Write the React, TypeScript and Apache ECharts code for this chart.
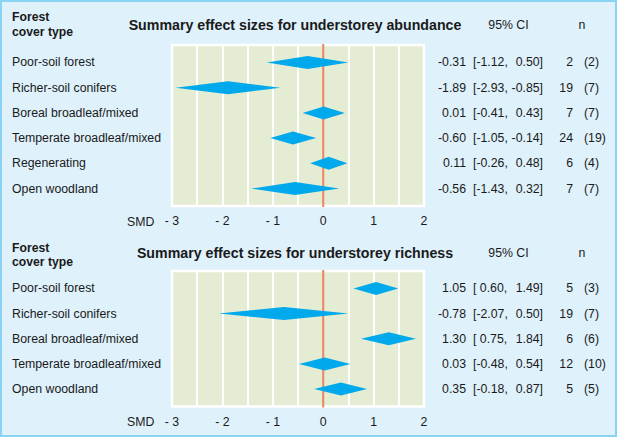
import React, { useEffect, useRef } from "react";
import * as echarts from "echarts";

// ---- Data ----
const abundanceCats = ["Poor-soil forest", "Richer-soil conifers", "Boreal broadleaf/mixed", "Temperate broadleaf/mixed", "Regenerating", "Open woodland"];
const abundanceEst = [-0.31, -1.89, 0.01, -0.6, 0.11, -0.56];
const abundanceLow = [-1.12, -2.93, -0.41, -1.05, -0.26, -1.43];
const abundanceHigh = [0.5, -0.85, 0.43, -0.14, 0.48, 0.32];
const abundanceN = [2, 19, 7, 24, 6, 7];
const abundanceK = [2, 7, 7, 19, 4, 7];

const richnessCats = ["Poor-soil forest", "Richer-soil conifers", "Boreal broadleaf/mixed", "Temperate broadleaf/mixed", "Open woodland"];
const richnessEst = [1.05, -0.78, 1.3, 0.03, 0.35];
const richnessLow = [0.6, -2.07, 0.75, -0.48, -0.18];
const richnessHigh = [1.49, 0.5, 1.84, 0.54, 0.87];
const richnessN = [5, 19, 6, 12, 5];
const richnessK = [3, 7, 6, 10, 5];

const xTicks = [-3, -2, -1, 0, 1, 2];
const titles = ["Summary effect sizes for understorey abundance", "Summary effect sizes for understorey richness"];

const FONT = '"Liberation Sans", Arial, Helvetica, sans-serif';
const TXT = "#1a1a1a";
const FS = 12.3;

function fmtLow(v: number) {
  return v < 0 ? "[-" + Math.abs(v).toFixed(2) + "," : "[ " + v.toFixed(2) + ",";
}
function fmtHigh(v: number) {
  return (v < 0 ? "-" + Math.abs(v).toFixed(2) : v.toFixed(2)) + "]";
}
function fmtEst(v: number) {
  return v < 0 ? "-" + Math.abs(v).toFixed(2) : v.toFixed(2);
}

function txt(x: number, y: number, text: string, opts: any = {}) {
  return {
    type: "text",
    x,
    y,
    silent: true,
    style: {
      text,
      fill: TXT,
      font: `${opts.bold ? "bold " : ""}${opts.size || FS}px ${FONT}`,
      align: opts.align || "left",
      verticalAlign: "middle",
    },
  };
}

export default function App() {
  const ref = useRef<HTMLDivElement>(null);
  useEffect(() => {
    document.body.style.margin = "0";
    const chart = echarts.init(ref.current!, undefined, { renderer: "svg" });

    const panels = [
      { cats: abundanceCats, est: abundanceEst, low: abundanceLow, high: abundanceHigh, n: abundanceN, k: abundanceK, top: 45, height: 161, f1: 17.3, f2: 32.3, ty: 25 },
      { cats: richnessCats, est: richnessEst, low: richnessLow, high: richnessHigh, n: richnessN, k: richnessK, top: 271, height: 135.5, f1: 247.5, f2: 262.3, ty: 253.3 },
    ];

    const grids: any[] = [];
    const xAxes: any[] = [];
    const yAxes: any[] = [];
    const series: any[] = [];
    const graphics: any[] = [];

    panels.forEach((p, gi) => {
      const cnt = p.cats.length;
      grids.push({
        left: 172,
        width: 252,
        top: p.top,
        height: p.height,
        show: true,
        backgroundColor: "#e4edd3",
        borderColor: "#ffffff",
        borderWidth: 2.5,
      });
      xAxes.push({
        type: "value",
        gridIndex: gi,
        min: -3,
        max: 2,
        interval: 0.5,
        axisLine: { show: false },
        axisTick: { show: false },
        splitLine: { show: true, lineStyle: { color: "#ffffff", width: 2 } },
        axisLabel: {
          margin: 9,
          color: TXT,
          fontSize: FS,
          fontFamily: FONT,
          formatter: (v: number) => (xTicks.indexOf(v) >= 0 ? (v < 0 ? "- " + Math.abs(v) : String(v)) : ""),
        },
      });
      yAxes.push({
        type: "value",
        gridIndex: gi,
        min: -0.69,
        max: cnt - 1 + 0.69,
        inverse: true,
        show: false,
        splitLine: { show: false },
      });
      // zero line
      series.push({
        type: "line",
        xAxisIndex: gi,
        yAxisIndex: gi,
        data: [[0, -1], [0, cnt]],
        symbol: "none",
        silent: true,
        z: 1,
        lineStyle: { color: "#e8845c", width: 2 },
      });
      const data = p.cats.map((_, i) => [p.est[i], i, p.low[i], p.high[i]]);
      series.push({
        type: "custom",
        xAxisIndex: gi,
        yAxisIndex: gi,
        z: 3,
        clip: false,
        encode: { x: [0, 2, 3], y: 1 },
        data,
        renderItem: (params: any, api: any) => {
          const i = api.value(1);
          const c = api.coord([api.value(0), i]);
          const xl = api.coord([api.value(2), i])[0];
          const xh = api.coord([api.value(3), i])[0];
          const yc = c[1];
          const h = 6.5;
          return {
            type: "group",
            children: [
              {
                type: "polygon",
                shape: { points: [[xl, yc], [c[0], yc - h], [xh, yc], [c[0], yc + h]] },
                style: { fill: "#00a9ec" },
              },
              txt(12, yc, p.cats[i]),
              txt(466, yc, fmtEst(p.est[i]), { align: "right" }),
              txt(473, yc, fmtLow(p.low[i])),
              txt(543, yc, fmtHigh(p.high[i]), { align: "right" }),
              txt(573, yc, String(p.n[i]), { align: "right" }),
              txt(584, yc, "(" + p.k[i] + ")"),
            ],
          };
        },
      });

      graphics.push(txt(12, p.f1, "Forest", { bold: true, size: 12.2 }));
      graphics.push(txt(12, p.f2, "cover type", { bold: true, size: 12.2 }));
      graphics.push(txt(295, p.ty, titles[gi], { bold: true, size: 14.2, align: "center" }));
      graphics.push(txt(508.5, p.ty, "95% CI", { align: "center" }));
      graphics.push(txt(582, p.ty, "n", { align: "center" }));
      graphics.push(txt(127, p.top + p.height + 15.5, "SMD"));
    });

    chart.setOption({
      animation: false,
      grid: grids,
      xAxis: xAxes,
      yAxis: yAxes,
      series,
      graphic: graphics,
    });
    return () => chart.dispose();
  }, []);

  return (
    <div style={{ position: "fixed", left: 0, top: 0, width: 617, height: 437, background: "#dff1fb" }}>
      <div
        style={{
          position: "absolute",
          left: 0,
          top: 0,
          width: 617,
          height: 437,
          boxSizing: "border-box",
          border: "2px solid #8ad3f3",
        }}
      />
      <div ref={ref} style={{ position: "absolute", left: 0, top: 0, width: 617, height: 437 }} />
    </div>
  );
}
